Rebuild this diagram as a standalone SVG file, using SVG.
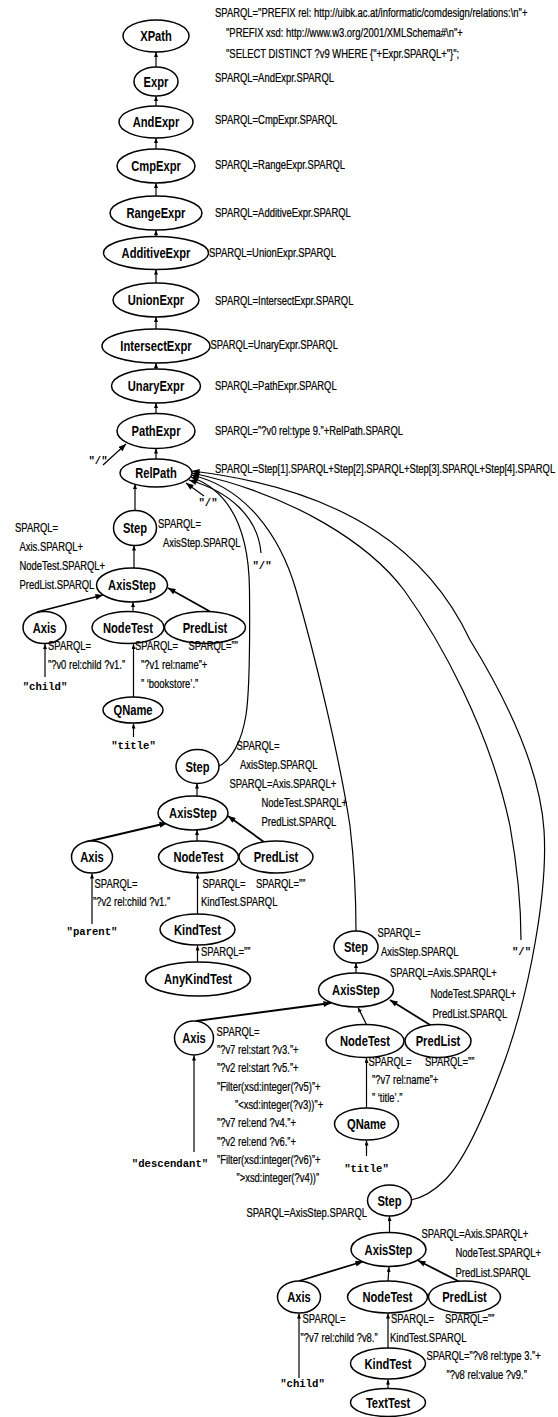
<svg xmlns="http://www.w3.org/2000/svg" width="558" height="1417" viewBox="0 0 558 1417">
<defs>
<style>
.e{fill:#fff;stroke:#000;stroke-width:1.5}
.n{font-family:"Liberation Sans",Arial,sans-serif;font-weight:bold;font-size:14.5px;text-anchor:middle;fill:#000}
.l{font-family:"Liberation Sans",Arial,sans-serif;font-size:13.5px;fill:#000;stroke:#000;stroke-width:0.25}
.r{text-anchor:end}
.m{font-family:"Liberation Mono","Courier New",monospace;font-weight:bold;font-size:10.6px;text-anchor:middle;fill:#000}
.c path,.c line{fill:none;stroke:#000;stroke-width:1.2}
.c .k{stroke-width:1.8}
</style>
<marker id="s" viewBox="0 0 10 8" refX="10" refY="4" markerWidth="5" markerHeight="4" orient="auto-start-reverse" markerUnits="userSpaceOnUse"><path d="M0,0L10,4L0,8z" fill="#000" stroke="none"/></marker>
<marker id="a" viewBox="0 0 10 8" refX="10" refY="4" markerWidth="8" markerHeight="6" orient="auto-start-reverse" markerUnits="userSpaceOnUse"><path d="M0,0L10,4L0,8z" fill="#000" stroke="none"/></marker>
</defs>
<rect width="558" height="1417" fill="#fff"/>

<g id="connectors" class="c">
<line x1="156" y1="67" x2="156" y2="52" marker-end="url(#s)"/>
<line x1="156" y1="106" x2="156" y2="96" marker-end="url(#s)"/>
<line x1="156" y1="149" x2="156" y2="138" marker-end="url(#s)"/>
<line x1="156" y1="196" x2="156" y2="183" marker-end="url(#s)"/>
<line x1="156" y1="236.5" x2="156" y2="230" marker-end="url(#s)"/>
<line x1="156" y1="283" x2="156" y2="269.5" marker-end="url(#s)"/>
<line x1="156" y1="329" x2="156" y2="317" marker-end="url(#s)"/>
<line x1="156" y1="369" x2="156" y2="363" marker-end="url(#s)"/>
<line x1="156" y1="413.5" x2="156" y2="403" marker-end="url(#s)"/>
<line x1="156" y1="459" x2="156" y2="448.5" marker-end="url(#s)"/>
<line x1="103" y1="465" x2="126" y2="444" marker-end="url(#a)"/>
<line x1="204" y1="496" x2="186" y2="483" marker-end="url(#a)"/>
<line x1="135" y1="510.5" x2="135" y2="484" marker-end="url(#s)"/>
<path d="M189,480 C228,491 258,516 261,553" marker-start="url(#a)"/>
<path d="M191,477 C233,492 249,535 249.5,590 C250,645 250,690 246,715 C242,740 232,760 219,766" marker-start="url(#a)"/>
<path d="M191,475 C245,487 280,535 296,590 C315,655 340,760 350,826 C354,860 356,900 356,931" marker-start="url(#a)"/>
<path d="M192,473 C295,495 370,545 404,590 C440,640 490,730 510,826 C517,865 521,905 521,940" marker-start="url(#a)"/>
<path d="M192,471 C350,490 430,555 470,640 C510,705 540,770 544,830 C548,890 530,990 505,1060 C485,1115 465,1160 445,1180 C433,1192 422,1198 411,1200" marker-start="url(#a)"/>
<line x1="134" y1="568" x2="134" y2="545.5" marker-end="url(#s)"/>
<line class="k" x1="37" y1="612" x2="103" y2="595" marker-end="url(#a)"/>
<line x1="133" y1="611.5" x2="133" y2="602" marker-end="url(#s)"/>
<line class="k" x1="210" y1="611.5" x2="168" y2="588" marker-end="url(#a)"/>
<line x1="45" y1="677" x2="45" y2="644" marker-end="url(#s)"/>
<line x1="133.5" y1="697" x2="133.5" y2="644" marker-end="url(#s)"/>
<line x1="133.5" y1="737" x2="133.5" y2="723.5" marker-end="url(#s)"/>
<line x1="197" y1="796" x2="197" y2="783.5" marker-end="url(#s)"/>
<line class="k" x1="86" y1="842" x2="167" y2="823" marker-end="url(#a)"/>
<line x1="197" y1="841" x2="197" y2="830" marker-end="url(#s)"/>
<line class="k" x1="264" y1="842" x2="228" y2="816" marker-end="url(#a)"/>
<line x1="92" y1="924" x2="92" y2="873.5" marker-end="url(#s)"/>
<line x1="197.5" y1="914" x2="197.5" y2="873.5" marker-end="url(#s)"/>
<line x1="197.5" y1="962" x2="197.5" y2="945.5" marker-end="url(#s)"/>
<line x1="356" y1="973" x2="356" y2="963" marker-end="url(#s)"/>
<line class="k" x1="196" y1="1021" x2="331" y2="1003" marker-end="url(#a)"/>
<line x1="366.5" y1="1024.5" x2="358" y2="1007.5" marker-end="url(#s)"/>
<line class="k" x1="431" y1="1025.5" x2="390" y2="1000" marker-end="url(#a)"/>
<line x1="194" y1="1152" x2="194" y2="1055.5" marker-end="url(#s)"/>
<line x1="366.5" y1="1108" x2="366.5" y2="1058" marker-end="url(#s)"/>
<line x1="366.5" y1="1156" x2="366.5" y2="1140.5" marker-end="url(#s)"/>
<line x1="389.5" y1="1232.5" x2="389.5" y2="1216" marker-end="url(#s)"/>
<line class="k" x1="299" y1="1281" x2="363" y2="1261.5" marker-end="url(#a)"/>
<line x1="388" y1="1281" x2="389" y2="1267" marker-end="url(#s)"/>
<line class="k" x1="459" y1="1281.5" x2="418" y2="1260.5" marker-end="url(#a)"/>
<line x1="299" y1="1378" x2="299" y2="1313.5" marker-end="url(#s)"/>
<line x1="388" y1="1348" x2="388" y2="1313.5" marker-end="url(#s)"/>
<line x1="388" y1="1388.5" x2="388" y2="1379.5" marker-end="url(#s)"/>
</g>

<g id="xpath"><ellipse class="e" cx="156" cy="36" rx="33" ry="16"/><text class="n" transform="matrix(.77 0 0 1 156 41)">XPath</text></g>
<g id="expr"><ellipse class="e" cx="156" cy="81.5" rx="22" ry="14.5"/><text class="n" transform="matrix(.77 0 0 1 156 86.5)">Expr</text></g>
<g id="andexpr"><ellipse class="e" cx="156" cy="122" rx="37" ry="16"/><text class="n" transform="matrix(.77 0 0 1 156 127)">AndExpr</text></g>
<g id="cmpexpr"><ellipse class="e" cx="156" cy="166" rx="39" ry="17"/><text class="n" transform="matrix(.77 0 0 1 156 171)">CmpExpr</text></g>
<g id="rangeexpr"><ellipse class="e" cx="156" cy="213" rx="46" ry="17"/><text class="n" transform="matrix(.77 0 0 1 156 218)">RangeExpr</text></g>
<g id="additiveexpr"><ellipse class="e" cx="156" cy="253" rx="52.5" ry="16.5"/><text class="n" transform="matrix(.77 0 0 1 156 258)">AdditiveExpr</text></g>
<g id="unionexpr"><ellipse class="e" cx="156" cy="300" rx="43" ry="17"/><text class="n" transform="matrix(.77 0 0 1 156 305)">UnionExpr</text></g>
<g id="intersectexpr"><ellipse class="e" cx="156" cy="346" rx="54" ry="17"/><text class="n" transform="matrix(.77 0 0 1 156 351)">IntersectExpr</text></g>
<g id="unaryexpr"><ellipse class="e" cx="156" cy="386" rx="44.5" ry="17"/><text class="n" transform="matrix(.77 0 0 1 156 391)">UnaryExpr</text></g>
<g id="pathexpr"><ellipse class="e" cx="156" cy="431" rx="39" ry="17.5"/><text class="n" transform="matrix(.77 0 0 1 156 436)">PathExpr</text></g>
<g id="relpath"><ellipse class="e" cx="156" cy="473" rx="36" ry="14"/><text class="n" transform="matrix(.77 0 0 1 156 478)">RelPath</text></g>

<g id="step1"><ellipse class="e" cx="135" cy="528" rx="21.5" ry="17.5"/><text class="n" transform="matrix(.77 0 0 1 135 533)">Step</text></g>
<g id="axisstep1"><ellipse class="e" cx="132" cy="585" rx="35.5" ry="17"/><text class="n" transform="matrix(.77 0 0 1 132 590)">AxisStep</text></g>
<g id="axis1"><ellipse class="e" cx="44.5" cy="627.5" rx="21.5" ry="16"/><text class="n" transform="matrix(.77 0 0 1 44.5 632.5)">Axis</text></g>
<g id="nodetest1"><ellipse class="e" cx="128" cy="627.5" rx="36" ry="16"/><text class="n" transform="matrix(.77 0 0 1 128 632.5)">NodeTest</text></g>
<g id="predlist1"><ellipse class="e" cx="205" cy="627.5" rx="40.5" ry="16"/><text class="n" transform="matrix(.77 0 0 1 205 632.5)">PredList</text></g>
<g id="qname1"><ellipse class="e" cx="133" cy="710" rx="30" ry="13"/><text class="n" transform="matrix(.77 0 0 1 133 715)">QName</text></g>

<g id="step2"><ellipse class="e" cx="197.5" cy="766.5" rx="21.5" ry="17"/><text class="n" transform="matrix(.77 0 0 1 197.5 771.5)">Step</text></g>
<g id="axisstep2"><ellipse class="e" cx="193" cy="813" rx="35" ry="17"/><text class="n" transform="matrix(.77 0 0 1 193 818)">AxisStep</text></g>
<g id="axis2"><ellipse class="e" cx="92" cy="857" rx="20.5" ry="16"/><text class="n" transform="matrix(.77 0 0 1 92 862)">Axis</text></g>
<g id="nodetest2"><ellipse class="e" cx="198.5" cy="857" rx="40" ry="16"/><text class="n" transform="matrix(.77 0 0 1 198.5 862)">NodeTest</text></g>
<g id="predlist2"><ellipse class="e" cx="276" cy="857" rx="37" ry="16"/><text class="n" transform="matrix(.77 0 0 1 276 862)">PredList</text></g>
<g id="kindtest2"><ellipse class="e" cx="197.5" cy="929.5" rx="37.5" ry="15.5"/><text class="n" transform="matrix(.77 0 0 1 197.5 934.5)">KindTest</text></g>
<g id="anykindtest"><ellipse class="e" cx="198" cy="979" rx="52.5" ry="17"/><text class="n" transform="matrix(.77 0 0 1 198 984)">AnyKindTest</text></g>

<g id="step3"><ellipse class="e" cx="356" cy="947" rx="22" ry="16"/><text class="n" transform="matrix(.77 0 0 1 356 952)">Step</text></g>
<g id="axisstep3"><ellipse class="e" cx="356" cy="990" rx="37.5" ry="17"/><text class="n" transform="matrix(.77 0 0 1 356 995)">AxisStep</text></g>
<g id="axis3"><ellipse class="e" cx="194" cy="1038" rx="19.5" ry="17"/><text class="n" transform="matrix(.77 0 0 1 194 1043)">Axis</text></g>
<g id="nodetest3"><ellipse class="e" cx="365" cy="1041" rx="39" ry="16.5"/><text class="n" transform="matrix(.77 0 0 1 365 1046)">NodeTest</text></g>
<g id="predlist3"><ellipse class="e" cx="438" cy="1041" rx="33" ry="16.5"/><text class="n" transform="matrix(.77 0 0 1 438 1046)">PredList</text></g>
<g id="qname3"><ellipse class="e" cx="366.5" cy="1124" rx="32" ry="16"/><text class="n" transform="matrix(.77 0 0 1 366.5 1129)">QName</text></g>

<g id="step4"><ellipse class="e" cx="389.5" cy="1200.5" rx="22" ry="15.5"/><text class="n" transform="matrix(.77 0 0 1 389.5 1205.5)">Step</text></g>
<g id="axisstep4"><ellipse class="e" cx="388.5" cy="1249.5" rx="37.5" ry="17"/><text class="n" transform="matrix(.77 0 0 1 388.5 1254.5)">AxisStep</text></g>
<g id="axis4"><ellipse class="e" cx="299" cy="1297" rx="21.5" ry="16"/><text class="n" transform="matrix(.77 0 0 1 299 1302)">Axis</text></g>
<g id="nodetest4"><ellipse class="e" cx="387.5" cy="1297" rx="40" ry="16"/><text class="n" transform="matrix(.77 0 0 1 387.5 1302)">NodeTest</text></g>
<g id="predlist4"><ellipse class="e" cx="464.5" cy="1297" rx="36" ry="16"/><text class="n" transform="matrix(.77 0 0 1 464.5 1302)">PredList</text></g>
<g id="kindtest4"><ellipse class="e" cx="388" cy="1363.5" rx="37.5" ry="15.5"/><text class="n" transform="matrix(.77 0 0 1 388 1368.5)">KindTest</text></g>
<g id="texttest"><ellipse class="e" cx="388" cy="1402.5" rx="37.5" ry="14"/><text class="n" transform="matrix(.77 0 0 1 388 1407.5)">TextTest</text></g>

<g id="tokens">
<text class="m" x="98" y="463.5">"/"</text>
<text class="m" x="208" y="505.5">"/"</text>
<text class="m" x="262" y="568.5">"/"</text>
<text class="m" x="45" y="689.5">"child"</text>
<text class="m" x="133.5" y="749">"title"</text>
<text class="m" x="92" y="934.5">"parent"</text>
<text class="m" x="521.5" y="954.5">"/"</text>
<text class="m" x="170" y="1166.5">"descendant"</text>
<text class="m" x="366.5" y="1171.5">"title"</text>
<text class="m" x="302.5" y="1386.5">"child"</text>
</g>

<g id="labels">
<text class="l" transform="matrix(.7 0 0 1 215 17.3)">SPARQL="PREFIX rel: http://uibk.ac.at/informatic/comdesign/relations:\n"+</text>
<text class="l" transform="matrix(.7 0 0 1 226 36.8)">"PREFIX xsd: http://www.w3.org/2001/XMLSchema#\n"+</text>
<text class="l" transform="matrix(.7 0 0 1 226 57.8)">"SELECT DISTINCT ?v9 WHERE {"+Expr.SPARQL+"}";</text>
<text class="l" transform="matrix(.7 0 0 1 215 81.8)">SPARQL=AndExpr.SPARQL</text>
<text class="l" transform="matrix(.7 0 0 1 215 123.8)">SPARQL=CmpExpr.SPARQL</text>
<text class="l" transform="matrix(.7 0 0 1 215 169.3)">SPARQL=RangeExpr.SPARQL</text>
<text class="l" transform="matrix(.7 0 0 1 215 216.8)">SPARQL=AdditiveExpr.SPARQL</text>
<text class="l" transform="matrix(.7 0 0 1 209 257.3)">SPARQL=UnionExpr.SPARQL</text>
<text class="l" transform="matrix(.7 0 0 1 215 304.8)">SPARQL=IntersectExpr.SPARQL</text>
<text class="l" transform="matrix(.7 0 0 1 210.5 349.3)">SPARQL=UnaryExpr.SPARQL</text>
<text class="l" transform="matrix(.7 0 0 1 215 390.3)">SPARQL=PathExpr.SPARQL</text>
<text class="l" transform="matrix(.7 0 0 1 215 435.3)">SPARQL=”?v0 rel:type 9.”+RelPath.SPARQL</text>
<text class="l" transform="matrix(.7 0 0 1 215 472.8)">SPARQL=Step[1].SPARQL+Step[2].SPARQL+Step[3].SPARQL+Step[4].SPARQL</text>

<text class="l" transform="matrix(.7 0 0 1 158 528.3)">SPARQL=</text>
<text class="l" transform="matrix(.7 0 0 1 163 547.3)">AxisStep.SPARQL</text>
<text class="l" transform="matrix(.7 0 0 1 15 531.8)">SPARQL=</text>
<text class="l" transform="matrix(.7 0 0 1 19.5 550.8)">Axis.SPARQL+</text>
<text class="l" transform="matrix(.7 0 0 1 19.5 569.8)">NodeTest.SPARQL+</text>
<text class="l" transform="matrix(.7 0 0 1 19.5 588.8)">PredList.SPARQL</text>
<text class="l" transform="matrix(.7 0 0 1 48 650.3)">SPARQL=</text>
<text class="l" transform="matrix(.7 0 0 1 48 669.3)">”?v0 rel:child ?v1.”</text>
<text class="l" transform="matrix(.7 0 0 1 135 650.3)">SPARQL=</text>
<text class="l" transform="matrix(.7 0 0 1 141 669.3)">”?v1 rel:name”+</text>
<text class="l" transform="matrix(.7 0 0 1 141 688.3)">” ‘bookstore’.”</text>
<text class="l" transform="matrix(.7 0 0 1 188.5 650.3)">SPARQL=””</text>

<text class="l" transform="matrix(.7 0 0 1 236.5 749.8)">SPARQL=</text>
<text class="l" transform="matrix(.7 0 0 1 240 768.8)">AxisStep.SPARQL</text>
<text class="l" transform="matrix(.7 0 0 1 229.5 787.8)">SPARQL=Axis.SPARQL+</text>
<text class="l" transform="matrix(.7 0 0 1 261.5 806.8)">NodeTest.SPARQL+</text>
<text class="l" transform="matrix(.7 0 0 1 261.5 825.8)">PredList.SPARQL</text>
<text class="l" transform="matrix(.7 0 0 1 94.5 887.8)">SPARQL=</text>
<text class="l" transform="matrix(.7 0 0 1 93 906.3)">”?v2 rel:child ?v1.”</text>
<text class="l" transform="matrix(.7 0 0 1 202.5 887.8)">SPARQL=</text>
<text class="l" transform="matrix(.7 0 0 1 201 905.8)">KindTest.SPARQL</text>
<text class="l" transform="matrix(.7 0 0 1 256 887.8)">SPARQL=””</text>
<text class="l" transform="matrix(.7 0 0 1 201 955.8)">SPARQL=””</text>

<text class="l" transform="matrix(.7 0 0 1 377.5 937.3)">SPARQL=</text>
<text class="l" transform="matrix(.7 0 0 1 381 956.3)">AxisStep.SPARQL</text>
<text class="l" transform="matrix(.7 0 0 1 390 976.8)">SPARQL=Axis.SPARQL+</text>
<text class="l" transform="matrix(.7 0 0 1 430.5 997.8)">NodeTest.SPARQL+</text>
<text class="l" transform="matrix(.7 0 0 1 432.5 1017.8)">PredList.SPARQL</text>
<text class="l" transform="matrix(.7 0 0 1 216.5 1035.8)">SPARQL=</text>
<text class="l" transform="matrix(.7 0 0 1 217 1054.1)">”?v7 rel:start ?v3.”+</text>
<text class="l" transform="matrix(.7 0 0 1 217 1072.4)">”?v2 rel:start ?v5.”+</text>
<text class="l" transform="matrix(.7 0 0 1 217 1090.7)">”Filter(xsd:integer(?v5)”+</text>
<text class="l" transform="matrix(.7 0 0 1 235 1109)">”&lt;xsd:integer(?v3))”+</text>
<text class="l" transform="matrix(.7 0 0 1 217 1127.3)">”?v7 rel:end ?v4.”+</text>
<text class="l" transform="matrix(.7 0 0 1 217 1145.6)">”?v2 rel:end ?v6.”+</text>
<text class="l" transform="matrix(.7 0 0 1 217 1163.9)">”Filter(xsd:integer(?v6)”+</text>
<text class="l" transform="matrix(.7 0 0 1 236.5 1182.2)">”&gt;xsd:integer(?v4))”</text>
<text class="l" transform="matrix(.7 0 0 1 368.5 1066.3)">SPARQL=</text>
<text class="l" transform="matrix(.7 0 0 1 372 1084.3)">”?v7 rel:name”+</text>
<text class="l" transform="matrix(.7 0 0 1 372 1102.3)">” ‘title’.”</text>
<text class="l" transform="matrix(.7 0 0 1 425 1066.3)">SPARQL=””</text>

<text class="l r" transform="matrix(.7 0 0 1 367 1216.8)">SPARQL=AxisStep.SPARQL</text>
<text class="l" transform="matrix(.7 0 0 1 421.5 1237.5)">SPARQL=Axis.SPARQL+</text>
<text class="l" transform="matrix(.7 0 0 1 455.5 1257.3)">NodeTest.SPARQL+</text>
<text class="l" transform="matrix(.7 0 0 1 455.5 1276.8)">PredList.SPARQL</text>
<text class="l" transform="matrix(.7 0 0 1 302.5 1322.8)">SPARQL=</text>
<text class="l" transform="matrix(.7 0 0 1 300.5 1341.8)">”?v7 rel:child ?v8.”</text>
<text class="l" transform="matrix(.7 0 0 1 391 1322.8)">SPARQL=</text>
<text class="l" transform="matrix(.7 0 0 1 390 1341.8)">KindTest.SPARQL</text>
<text class="l" transform="matrix(.7 0 0 1 445 1322.8)">SPARQL=””</text>
<text class="l" transform="matrix(.7 0 0 1 426.5 1359.8)">SPARQL=”?v8 rel:type 3.”+</text>
<text class="l" transform="matrix(.7 0 0 1 446.5 1378.8)">”?v8 rel:value ?v9.”</text>
</g>
</svg>
